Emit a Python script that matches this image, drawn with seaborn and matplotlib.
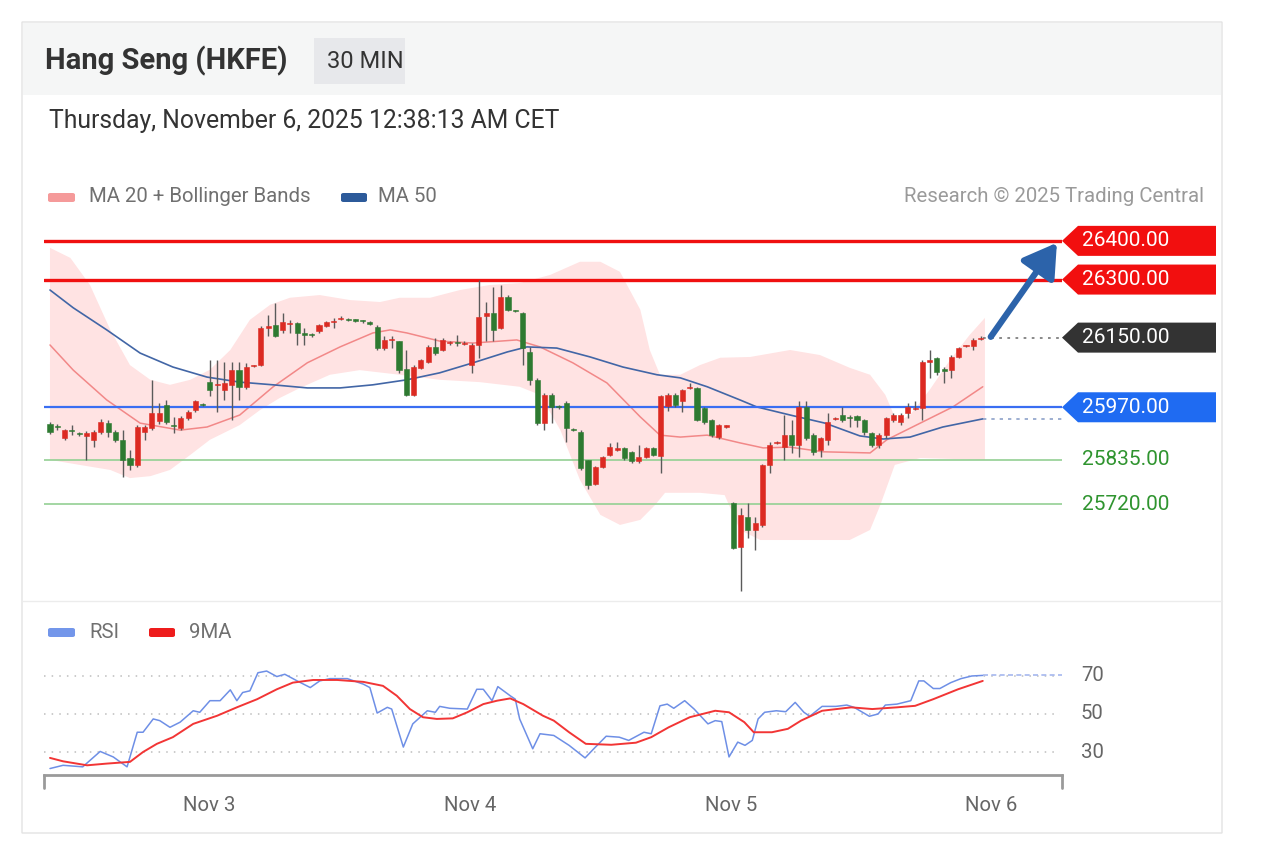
import numpy as np
import pandas as pd
import matplotlib.pyplot as plt
import matplotlib.transforms as mtransforms
from matplotlib.patches import Polygon, FancyBboxPatch
import seaborn as sns

# ---- data (30 min bars, Hang Seng futures) ----
opens = [25928, 25920, 25890, 25912, 25902, 25895, 25885, 25907, 25930, 25907,
         25885, 25838, 25821, 25905, 25916, 25935, 25975, 25925, 25916, 25942,
         25963, 25977, 26036, 26028, 26015, 26028, 26067, 26023, 26076, 26080,
         26176, 26183, 26170, 26186, 26187, 26160, 26158, 26166, 26180, 26191,
         26198, 26197, 26196, 26194, 26190, 26178, 26122, 26143, 26140, 26070,
         26002, 26071, 26088, 26127, 26118, 26135, 26136, 26134, 26079, 26131,
         26205, 26213, 26174, 26256, 26220, 26213, 26114, 26041, 25929, 26002,
         25972, 25980, 25914, 25907, 25834, 25773, 25816, 25847, 25860, 25864,
         25855, 25830, 25842, 25864, 25843, 25974, 26002, 25985, 26019, 26019,
         25967, 25937, 25894, 25920, 25722, 25610, 25687, 25653, 25666, 25821,
         25878, 25868, 25898, 25873, 25972, 25898, 25860, 25886, 25940, 25950,
         25944, 25947, 25937, 25903, 25873, 25898, 25937, 25933, 25955, 25966,
         25967, 26088, 26097, 26067, 26067, 26101, 26128, 26129, 26146]
highs = [25932, 25928, 25914, 25925, 25906, 25908, 25910, 25940, 25937, 25910,
         25911, 25860, 25925, 25925, 26041, 25980, 25989, 25945, 25947, 25962,
         25990, 25980, 26092, 26092, 26088, 26088, 26088, 26085, 26080, 26180,
         26209, 26239, 26213, 26196, 26190, 26174, 26162, 26186, 26193, 26200,
         26205, 26200, 26198, 26196, 26192, 26182, 26153, 26153, 26142, 26118,
         26078, 26095, 26130, 26148, 26150, 26142, 26157, 26140, 26135, 26299,
         26243, 26282, 26286, 26260, 26222, 26215, 26127, 26045, 26006, 26006,
         25975, 25985, 25916, 25910, 25834, 25818, 25845, 25877, 25880, 25868,
         25858, 25872, 25867, 25868, 26002, 26006, 26006, 26018, 26032, 26022,
         25970, 25940, 25928, 25925, 25724, 25709, 25722, 25687, 25824, 25880,
         25882, 25950, 25937, 25985, 25985, 25903, 25894, 25954, 25944, 25972,
         25950, 25950, 25940, 25907, 25903, 25946, 25954, 25955, 25980, 25985,
         26092, 26118, 26101, 26075, 26105, 26127, 26132, 26148, 26154]
lows = [25900, 25911, 25885, 25898, 25896, 25834, 25868, 25900, 25894, 25880,
        25791, 25808, 25815, 25885, 25911, 25928, 25928, 25903, 25910, 25938,
        25958, 25973, 25998, 25959, 25989, 25937, 25989, 26018, 26074, 26076,
        26153, 26152, 26161, 26161, 26131, 26131, 26152, 26162, 26178, 26174,
        26195, 26193, 26190, 26188, 26183, 26118, 26118, 26122, 26058, 26000,
        25998, 26068, 26085, 26105, 26115, 26130, 26128, 26130, 26058, 26097,
        26140, 26140, 26172, 26218, 26215, 26079, 26028, 25925, 25911, 25929,
        25965, 25881, 25908, 25808, 25758, 25768, 25813, 25843, 25856, 25834,
        25826, 25826, 25840, 25843, 25800, 25960, 25970, 25959, 26016, 25934,
        25928, 25894, 25889, 25917, 25603, 25494, 25631, 25601, 25660, 25800,
        25874, 25834, 25851, 25842, 25885, 25847, 25842, 25873, 25936, 25933,
        25920, 25920, 25898, 25868, 25865, 25890, 25933, 25925, 25942, 25963,
        25937, 26045, 26054, 26032, 26045, 26097, 26125, 26118, 26144]
closes = [25905, 25918, 25911, 25908, 25900, 25904, 25907, 25933, 25907, 25885,
          25834, 25821, 25920, 25920, 25955, 25955, 25933, 25922, 25942, 25959,
          25985, 25976, 26015, 26030, 26032, 26067, 26023, 26075, 26078, 26174,
          26180, 26153, 26191, 26188, 26161, 26158, 26157, 26183, 26191, 26192,
          26200, 26196, 26194, 26192, 26186, 26122, 26144, 26145, 26066, 26002,
          26075, 26092, 26127, 26110, 26144, 26138, 26135, 26135, 26131, 26204,
          26213, 26170, 26256, 26222, 26218, 26122, 26041, 25929, 26002, 25972,
          25970, 25916, 25912, 25812, 25769, 25816, 25842, 25867, 25865, 25838,
          25830, 25842, 25864, 25847, 25998, 26002, 25976, 26015, 26021, 25937,
          25933, 25898, 25924, 25922, 25606, 25692, 25653, 25670, 25821, 25873,
          25880, 25898, 25873, 25972, 25890, 25855, 25890, 25933, 25942, 25937,
          25943, 25937, 25907, 25873, 25898, 25942, 25950, 25950, 25972, 25968,
          26088, 26090, 26062, 26065, 26101, 26123, 26129, 26144, 26150]

# moving averages and Bollinger envelope (bar position, price)
ma20_x = [0, 3.2, 7.8, 12.4, 17.9, 21.6, 26.1, 30.7, 35.4, 39.9, 44.4, 46.8, 49.1,
          53.6, 58.2, 64.2, 67.4, 71.9, 76.6, 81.2, 83.9, 86.7, 90.4, 94.9, 98.1,
          101.8, 106.3, 112.8, 115.1, 119.7, 124.2, 128.3]
ma20_y = [26131, 26066, 25989, 25929, 25911, 25919, 25950, 26023, 26085, 26126,
          26162, 26170, 26162, 26141, 26136, 26144, 26126, 26085, 26033, 25945,
          25898, 25893, 25898, 25878, 25865, 25867, 25855, 25852, 25886, 25929,
          25971, 26023]
ma50_x = [0, 3.2, 7.8, 12.4, 16.9, 21.6, 26.1, 30.7, 35.4, 39.9, 44.4, 49.1, 53.6,
          58.2, 62.9, 65.6, 69.7, 74.3, 78.8, 83.5, 86.7, 90.4, 94.9, 97.2, 101.8,
          106.6, 111.4, 114.6, 118.3, 122.8, 128.3]
ma50_y = [26273, 26227, 26170, 26110, 26074, 26048, 26035, 26028, 26020, 26020,
          26028, 26041, 26059, 26085, 26113, 26126, 26123, 26100, 26074, 26054,
          26046, 26023, 25989, 25971, 25950, 25929, 25896, 25888, 25893, 25919,
          25940]
bb_up_x = [0, 2.8, 5.5, 8.3, 11, 13.8, 16.5, 19.3, 22, 24.8, 27.5, 30.3, 33, 37.1,
           41.3, 45.4, 48.1, 52.3, 56.4, 60.5, 64.6, 68.8, 72.9, 75.7, 78.4, 81.2,
           82.5, 83.9, 86.7, 89.4, 92.2, 96.3, 101.8, 105.9, 110, 112.8, 114.9,
           116.5, 118.3, 121, 123.8, 126.5, 128.6]
bb_up_y = [26382, 26356, 26286, 26170, 26079, 26041, 26028, 26041, 26067, 26118,
           26196, 26235, 26253, 26260, 26247, 26242, 26253, 26253, 26273, 26286,
           26291, 26312, 26346, 26346, 26320, 26222, 26118, 26054, 26054, 26079,
           26098, 26100, 26118, 26105, 26072, 26054, 26002, 25932, 25950, 26015,
           26092, 26157, 26201]
bb_lo_x = [0, 4.1, 8.3, 11, 13.8, 16.5, 19.3, 22, 26.1, 28.9, 31.6, 34.4, 38.5,
           42.6, 48.1, 53.6, 59.1, 64.6, 67.4, 70.2, 72.9, 75.7, 78.4, 81.2, 83.2,
           84.6, 89.4, 92.8, 94.9, 97.7, 103.2, 110, 112.8, 114.2, 116.2, 119.7,
           128.6]
bb_lo_y = [25834, 25821, 25808, 25787, 25792, 25808, 25847, 25886, 25924, 25963,
           25994, 26020, 26054, 26066, 26054, 26041, 26035, 26023, 26002, 25911,
           25782, 25692, 25666, 25679, 25717, 25749, 25749, 25743, 25653, 25627,
           25627, 25627, 25653, 25717, 25821, 25839, 25834]

# RSI and its 9 period average
rsi_x = [0, 1.8, 4.5, 6.9, 8.7, 10.6, 12, 12.8, 14.2, 15.1, 16.5, 17.9, 19.7, 20.6,
         22, 23.4, 24.8, 25.7, 26.5, 27.5, 28.6, 29.8, 31.2, 32.3, 34, 35.8, 37.1,
         38.5, 40.9, 43.1, 44, 45, 46.4, 47, 48.6, 49.9, 51.9, 53, 53.6, 55, 57.4,
         58.7, 59.6, 60.8, 61.6, 63.3, 64, 64.6, 66.4, 67.4, 69.3, 71.4, 73.6,
         74.8, 76.5, 78.3, 79.6, 81.7, 82.7, 83.9, 84.9, 85.8, 87.3, 88.6, 90.5,
         91.5, 92.4, 93.4, 94.6, 95.6, 96.6, 97.4, 98.3, 99.9, 101.2, 102.5, 103.7,
         104.5, 106.2, 108.1, 109.6, 110.6, 112.7, 113.9, 114.9, 116.5, 118.4,
         119.5, 120.2, 121.5, 122.4, 123.9, 125.3, 126.8, 128.3]
rsi_y = [21.3, 23, 22.2, 30.3, 27.4, 22.2, 40.4, 40.4, 47.4, 46.5, 43, 45.7, 51.7,
         50.9, 57, 57, 62.7, 57, 61.3, 62.2, 71.7, 72.6, 69.7, 70.9, 67.4, 63.9,
         67.4, 68.6, 68.6, 65.7, 63.9, 50.5, 53.5, 52.6, 32.6, 44.8, 51.7, 50.9,
         54, 53, 52.6, 63, 63, 57, 64.4, 59.6, 57.8, 47.4, 31.7, 39.6, 38.7, 33.5,
         26.9, 31.7, 38.3, 37.8, 36.1, 40.4, 39.6, 54.3, 55.2, 53, 57, 52.6, 44.8,
         46.5, 46, 27.4, 35.2, 33.5, 36.1, 47.4, 50.9, 51.7, 51.2, 56.1, 50.9,
         48.8, 54, 54, 54.7, 53.5, 48.8, 50, 54.7, 55.2, 57, 67.4, 67.4, 63.4,
         63.4, 66.5, 68.6, 70, 70.3]
ma9_x = [0, 1.8, 5.1, 7.8, 11, 12.8, 14.7, 16.9, 19.7, 23, 25.7, 28.5, 31.2, 33.4,
         36.2, 39.5, 43.1, 45.8, 47.7, 49.5, 51.3, 53.2, 55.4, 57.4, 59.6, 61.5,
         63.3, 65.1, 67.8, 69.3, 71.4, 73.7, 77.2, 80.6, 82.7, 85.1, 88, 91.5,
         93.4, 95.5, 96.8, 99.3, 101.5, 103.3, 106.2, 110.2, 113.1, 116.5, 119,
         121.5, 124.9, 128.3]
ma9_y = [26.9, 25.1, 23, 23.9, 24.8, 30, 34.3, 37.8, 44.8, 49.1, 53.5, 57.8, 63,
         66.5, 67.9, 67.9, 66.9, 64.8, 59.6, 52.6, 48.3, 47.4, 47.7, 50.9, 55.2,
         57, 58.2, 55.2, 49.1, 46.5, 40.4, 34.3, 33.8, 34.9, 37.8, 43, 48.3, 51.7,
         50.9, 45.7, 40.4, 40.4, 42.2, 46.5, 51.7, 53.5, 52.6, 53.5, 54.3, 57.8,
         63, 67.4]

day_ticks = [21.9, 57.8, 93.7, 129.5]
day_labels = ['Nov 3', 'Nov 4', 'Nov 5', 'Nov 6']

resistances = [26400, 26300]
pivot = 25970
supports = [25835, 25720]
last_price = 26150
target = 26400

# ---- figure ----
sns.set_style('white')
plt.rcParams['font.family'] = ['Roboto', 'DejaVu Sans']

W, H = 1264, 864
fig = plt.figure(figsize=(W / 100, H / 100), dpi=100)


def rect(x0, y0, x1, y1):
    return [x0 / W, 1 - y1 / H, (x1 - x0) / W, (y1 - y0) / H]


def ftext(x, y, s, **kw):
    fig.text(x / W, 1 - y / H, s, **kw)


def fbox(x0, y0, x1, y1, color, rounding=0.0, z=-10, **kw):
    fig.patches.append(FancyBboxPatch((x0 / W, 1 - y1 / H), (x1 - x0) / W, (y1 - y0) / H,
                                      boxstyle=f'round,pad=0,rounding_size={rounding}',
                                      transform=fig.transFigure, facecolor=color,
                                      zorder=z, **kw))


# card and header
fbox(22, 22, 1222, 833, 'white', edgecolor='#e3e3e3', lw=1, z=-20)
fbox(23, 23, 1221, 95, '#f5f6f6', lw=0)
fbox(314, 38, 405, 84, '#e7e8eb', lw=0)
ftext(45, 61, 'Hang Seng (HKFE)', fontsize=21, fontweight='bold', color='#333333', va='center')
ftext(327, 61, '30 MIN', fontsize=17, color='#333333', va='center')
ftext(49, 121, 'Thursday, November 6, 2025 12:38:13 AM CET', fontsize=17.8, color='#333333',
      va='center')

# legends
fbox(48, 193, 75, 202, '#f59a9a', rounding=0.002, lw=0)
ftext(89, 197, 'MA 20 + Bollinger Bands', fontsize=14.7, color='#707070', va='center')
fbox(341, 193, 367, 202, '#2c5a9a', rounding=0.002, lw=0)
ftext(378, 197, 'MA 50', fontsize=14.7, color='#707070', va='center')
ftext(1204, 197, 'Research \u00a9 2025 Trading Central', fontsize=14.7, color='#9a9a9a',
      va='center', ha='right')
fbox(48, 628, 75, 637, '#7396ea', rounding=0.002, lw=0)
ftext(89, 632, 'RSI', fontsize=14.7, color='#707070', va='center')
fbox(149, 628, 175, 637, '#ee1c1c', rounding=0.002, lw=0)
ftext(189, 632, '9MA', fontsize=14.7, color='#707070', va='center')

# panel separator
fig.add_artist(plt.Line2D([22 / W, 1222 / W], [1 - 601 / H] * 2, color='#ececec', lw=1,
                          zorder=-5))

# ---- price panel ----
ax = fig.add_axes(rect(44, 225, 1062, 600))
ax.set_xlim(-0.825, 139.2)
ax.set_ylim(25472, 26441)
ax.set_axis_off()

ax.fill(np.r_[bb_up_x, bb_lo_x[::-1]], np.r_[bb_up_y, bb_lo_y[::-1]],
        color='#ffe3e3', lw=0, zorder=1)
sns.lineplot(x=ma20_x, y=ma20_y, ax=ax, color='#f28888', lw=1.1, sort=False,
             estimator=None, zorder=2)
sns.lineplot(x=ma50_x, y=ma50_y, ax=ax, color='#4266a6', lw=1.2, sort=False,
             estimator=None, zorder=2)
ax.plot([ma50_x[-1], 139.2], [ma50_y[-1]] * 2, ls=(0, (2, 3)), color='#8ea2c9', lw=1.2,
        clip_on=False)

for lvl in resistances:
    ax.axhline(lvl, color='#f01010', lw=2.4, zorder=2)
ax.axhline(pivot, color='#3a6ef2', lw=1.6, zorder=2)
for lvl in supports:
    ax.axhline(lvl, color='#93d093', lw=1.2, zorder=2)

candles = pd.DataFrame({'open': opens, 'high': highs, 'low': lows, 'close': closes})
candles['pos'] = np.arange(len(candles))
up = candles['close'] >= candles['open']
body_col = np.where(up, '#dc2a22', '#2e7a31')
body_h = (candles['close'] - candles['open']).abs().clip(lower=3)
body_b = candles[['open', 'close']].min(axis=1)
ax.vlines(candles['pos'], candles['low'], candles['high'], color='#5a5a5a', lw=1, zorder=3)
ax.bar(candles['pos'], body_h, bottom=body_b, width=0.7, color=body_col,
       edgecolor=body_col, lw=0.4, zorder=4)

ax.plot([len(candles) - 0.6, 139.2], [last_price] * 2, ls=(0, (1.5, 3)), color='#808080',
        lw=1.3, clip_on=False)
ax.annotate('', xy=(138.5, target - 5), xytext=(129.4, last_price + 2),
            arrowprops=dict(arrowstyle='-|>,head_length=0.9,head_width=0.55',
                            mutation_scale=22, lw=4.5, color='#2c63aa',
                            shrinkA=0, shrinkB=0),
            annotation_clip=False, zorder=6)

# price tags on the right
trans = mtransforms.blended_transform_factory(ax.transAxes, ax.transData)
a1 = (1078 - 44) / 1018
a2 = (1216 - 44) / 1018
hh = 15 / 0.3868
xt = (1082 - 44) / 1018


def tag(price, color):
    ax.add_patch(Polygon([(1.0, price), (a1, price + hh), (a2, price + hh),
                          (a2, price - hh), (a1, price - hh)], closed=True,
                         transform=trans, facecolor=color, lw=0, clip_on=False))
    ax.text(xt, price, f'{price:.2f}', transform=trans, color='white', fontsize=15,
            va='center', ha='left', clip_on=False)


for lvl in resistances:
    tag(lvl, '#f20f0f')
tag(last_price, '#333333')
tag(pivot, '#1f6bf2')
for lvl in supports:
    ax.text(xt, lvl, f'{lvl:.2f}', transform=trans, color='#2f942f', fontsize=15,
            va='center', ha='left', clip_on=False)

# ---- RSI panel ----
ax2 = fig.add_axes(rect(44, 645, 1062, 775))
ax2.set_xlim(-0.825, 139.2)
ax2.set_ylim(17.9, 86.3)
for v in (30, 50, 70):
    ax2.axhline(v, ls=(0, (1, 4)), color='#bdbdbd', lw=1.1, xmax=0.998)
    ax2.text((1081 - 44) / 1018, v, str(v), transform=mtransforms.blended_transform_factory(
        ax2.transAxes, ax2.transData), fontsize=14.7, color='#666666', va='center', ha='left')
sns.lineplot(x=rsi_x, y=rsi_y, ax=ax2, color='#6e8fe6', lw=1.1, sort=False, estimator=None)
sns.lineplot(x=ma9_x, y=ma9_y, ax=ax2, color='#f23535', lw=1.4, sort=False, estimator=None)
ax2.plot([rsi_x[-1], 139.2], [rsi_y[-1]] * 2, ls=(0, (3, 2)), color='#a6b8ef', lw=1.2,
         clip_on=False)

for side in ('top', 'right', 'left'):
    ax2.spines[side].set_visible(False)
ax2.spines['bottom'].set_color('#9a9a9a')
ax2.spines['bottom'].set_linewidth(2)
ax2.plot([0, 0], [0, -0.1], transform=ax2.transAxes, color='#9a9a9a', lw=2, clip_on=False)
ax2.plot([1, 1], [0, -0.1], transform=ax2.transAxes, color='#9a9a9a', lw=2, clip_on=False)
ax2.set_yticks([])
ax2.set_xticks(day_ticks)
ax2.set_xticklabels(day_labels, fontsize=14.7, color='#666666')
ax2.tick_params(axis='x', length=0, pad=15)
ax2.set_xlabel('')
ax2.set_ylabel('')
ax2.patch.set_alpha(0)

fig.savefig('out.png', dpi=100)
